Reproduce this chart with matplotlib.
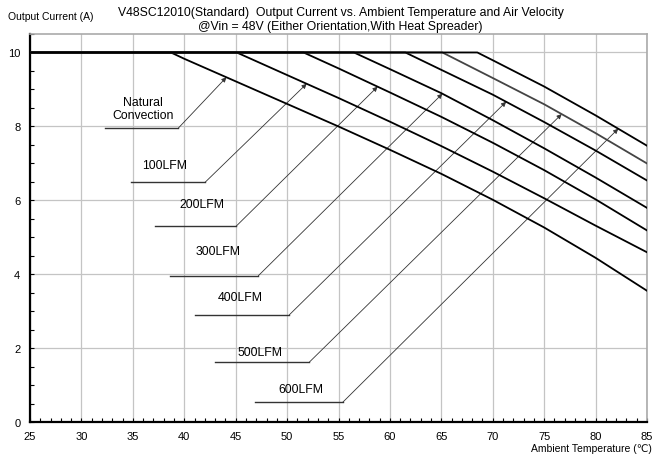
import matplotlib.pyplot as plt
import numpy as np

plt.rcParams['font.family'] = ['Liberation Sans', 'DejaVu Sans']

# derating curves, ambient temp (C) vs output current (A)
nc_t = [25, 38.7, 40, 45, 50, 55, 60, 65, 70, 75, 80, 85]
nc_a = [10, 10, 9.83, 9.22, 8.61, 8.0, 7.37, 6.72, 6.02, 5.27, 4.45, 3.56]
lfm100_t = [25, 45.1, 50, 55, 60, 65, 70, 75, 80, 85]
lfm100_a = [10, 10, 9.39, 8.77, 8.13, 7.47, 6.78, 6.06, 5.32, 4.6]
lfm200_t = [25, 51.6, 55, 60, 65, 70, 75, 80, 85]
lfm200_a = [10, 10, 9.57, 8.92, 8.26, 7.56, 6.82, 6.03, 5.19]
lfm300_t = [25, 56.5, 60, 65, 70, 75, 80, 85]
lfm300_a = [10, 10, 9.55, 8.9, 8.17, 7.41, 6.62, 5.8]
lfm400_t = [25, 61.5, 65, 70, 75, 80, 85]
lfm400_a = [10, 10, 9.53, 8.86, 8.12, 7.35, 6.54]
lfm500_t = [25, 65.1, 70, 75, 80, 85]
lfm500_a = [10, 10, 9.31, 8.6, 7.82, 7.0]
lfm600_t = [25, 68.5, 70, 75, 80, 85]
lfm600_a = [10, 10, 9.79, 9.08, 8.3, 7.48]

labels = ['Natural\nConvection', '100LFM', '200LFM', '300LFM', '400LFM', '500LFM', '600LFM']
curves = [(nc_t, nc_a), (lfm100_t, lfm100_a), (lfm200_t, lfm200_a), (lfm300_t, lfm300_a),
          (lfm400_t, lfm400_a), (lfm500_t, lfm500_a), (lfm600_t, lfm600_a)]

# where each leader arrow touches its curve
arrow_t = [44.1, 51.9, 58.8, 65.1, 71.3, 76.7, 82.2]
# leader layout: text x, text y, line start x, elbow x, elbow y
leader = [(35.96, 8.49, 32.29, 39.42, 7.955),
          (38.13, 6.96, 34.79, 42.02, 6.49),
          (41.70, 5.90, 37.16, 45.03, 5.30),
          (43.31, 4.64, 38.61, 47.20, 3.965),
          (45.42, 3.38, 41.05, 50.22, 2.91),
          (47.37, 1.90, 42.99, 52.16, 1.63),
          (51.33, 0.905, 46.88, 55.41, 0.546)]

fig = plt.figure(figsize=(6.55, 4.56), dpi=100)
ax = fig.add_axes([0.0458, 0.0713, 0.942, 0.852])

for i, (t, a) in enumerate(curves):
    col = '#444444' if i == 5 else 'black'
    ax.plot(t, a, color=col, lw=1.3, zorder=3)

for i, lab in enumerate(labels):
    tx, ty, x0, x1, y1 = leader[i]
    t, a = curves[i]
    tip_y = np.interp(arrow_t[i], t, a)
    ax.plot([x0, x1], [y1, y1], color='#333333', lw=1.0, zorder=2)
    ax.annotate('', xy=(arrow_t[i], tip_y), xytext=(x1, y1),
                arrowprops=dict(arrowstyle='-|>', color='#333333', lw=0.6,
                                mutation_scale=7, shrinkA=0, shrinkB=0), zorder=2)
    ax.text(tx, ty, lab, ha='center', va='center', fontsize=8.8, linespacing=1.15)

ax.set_xlim(25, 85)
ax.set_ylim(0, 10.5)
ax.set_xticks(np.arange(25, 86, 5))
ax.set_xticks(np.arange(25, 86, 1), minor=True)
ax.set_yticks(np.arange(0, 11, 2))
ax.set_yticks(np.arange(0, 10.6, 0.5), minor=True)
ax.tick_params(which='both', direction='in', length=3, width=0.8, labelsize=8)
ax.tick_params(axis='x', pad=6)
ax.tick_params(axis='y', pad=7)
ax.grid(True, which='major', color='#c4c4c4', lw=0.9)

ax.spines['left'].set_linewidth(1.6)
ax.spines['bottom'].set_linewidth(1.6)
for s in ['top', 'right']:
    ax.spines[s].set_color('#aaaaaa')
    ax.spines[s].set_linewidth(1.2)

fig.text(0.52, 0.985, 'V48SC12010(Standard)  Output Current vs. Ambient Temperature and Air Velocity',
         ha='center', va='top', fontsize=8.8)
fig.text(0.52, 0.955, '@Vin = 48V (Either Orientation,With Heat Spreader)',
         ha='center', va='top', fontsize=8.8)
fig.text(0.012, 0.963, 'Output Current (A)', ha='left', va='center', fontsize=7.5)
fig.text(0.995, 0.005, 'Ambient Temperature (℃)', ha='right', va='bottom', fontsize=7.5)

fig.savefig('out.png', dpi=100)
